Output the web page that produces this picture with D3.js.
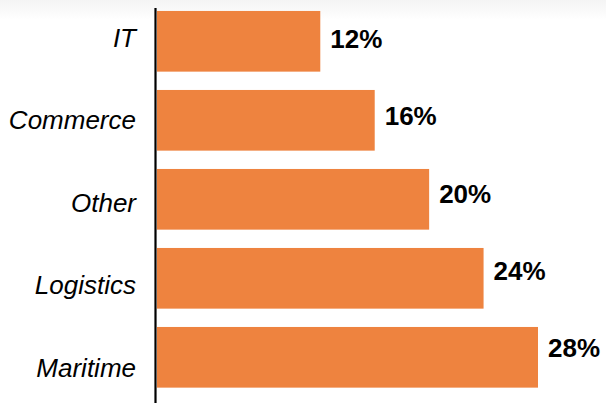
<!DOCTYPE html>
<html>
<head>
<meta charset="utf-8">
<script src="https://cdn.jsdelivr.net/npm/d3@7"></script>
<style>
  html, body { margin: 0; padding: 0; background: #fff; }
  svg { display: block; }
</style>
</head>
<body>
<div id="chart"></div>
<script>
var categories = ["IT", "Commerce", "Other", "Logistics", "Maritime"];
var shares = [12, 16, 20, 24, 28];
var valueLabels = ["12%", "16%", "20%", "24%", "28%"];

var width = 606, height = 403;

var svg = d3.select("#chart")
    .append("svg")
    .attr("width", width)
    .attr("height", height);

// faint grey fade along the top edge
var grad = svg.append("defs").append("linearGradient")
    .attr("id", "topFade")
    .attr("x1", 0).attr("y1", 0).attr("x2", 0).attr("y2", 1);
grad.append("stop").attr("offset", "0%").attr("stop-color", "#f4f4f4");
grad.append("stop").attr("offset", "100%").attr("stop-color", "#ffffff");
svg.append("rect")
    .attr("x", 0).attr("y", 0)
    .attr("width", width).attr("height", 20)
    .attr("fill", "url(#topFade)");

var x = d3.scaleLinear().domain([0, 28]).range([157, 538]);

var y = d3.scaleBand()
    .domain(categories)
    .range([1.8, 396.8])
    .paddingInner(0.232)
    .paddingOuter(0.116);

// labels in the source sit on their own slightly different rhythm
var yLabel = d3.scalePoint().domain(categories).range([46.7, 376.7]);
var yValue = d3.scalePoint().domain(categories).range([48.3, 356.7]);

var data = categories.map(function(c, i) {
    return { name: c, value: shares[i], label: valueLabels[i] };
});

//Bars
svg.selectAll("rect.bar")
    .data(data)
    .enter()
    .append("rect")
    .attr("class", "bar")
    .attr("x", x(0))
    .attr("y", function(d) { return y(d.name); })
    .attr("width", function(d) { return x(d.value) - x(0); })
    .attr("height", y.bandwidth())
    .attr("fill", "#ee833f");

//Axis line
svg.append("line")
    .attr("x1", 155.5).attr("x2", 155.5)
    .attr("y1", 8).attr("y2", height)
    .attr("stroke", "#000")
    .attr("stroke-width", 2.2);

//Category labels
svg.selectAll("text.cat")
    .data(data)
    .enter()
    .append("text")
    .attr("class", "cat")
    .attr("x", 136)
    .attr("y", function(d) { return yLabel(d.name); })
    .style("text-anchor", "end")
    .attr("font-family", "'Liberation Sans', Arial, Helvetica, sans-serif")
    .attr("font-style", "italic")
    .attr("font-size", "26px")
    .attr("fill", "#000")
    .text(function(d) { return d.name; });

//Value labels
svg.selectAll("text.val")
    .data(data)
    .enter()
    .append("text")
    .attr("class", "val")
    .attr("x", function(d) { return x(d.value) + 10; })
    .attr("y", function(d) { return yValue(d.name); })
    .attr("font-family", "'Liberation Sans', Arial, Helvetica, sans-serif")
    .attr("font-weight", "bold")
    .attr("font-size", "26px")
    .attr("fill", "#000")
    .text(function(d) { return d.label; });
</script>
</body>
</html>
